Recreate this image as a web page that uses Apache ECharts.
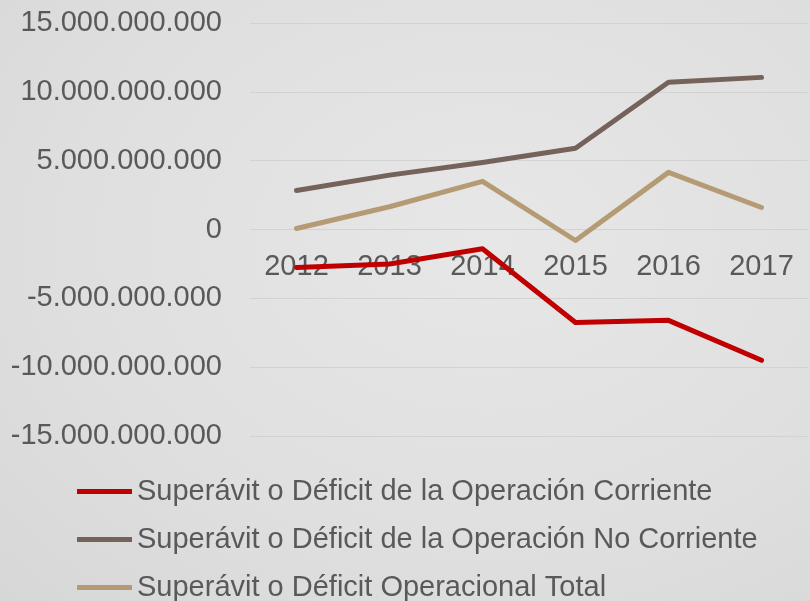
<!DOCTYPE html>
<html>
<head>
<meta charset="utf-8">
<script src="https://cdn.jsdelivr.net/npm/echarts@6/dist/echarts.min.js"></script>
<style>
  html, body { margin: 0; padding: 0; }
  #chart {
    width: 810px; height: 601px;
    background: radial-gradient(ellipse at 60% 40%, #e8e7e8 0%, #e0dfe0 60%, #d8d7d8 100%);
  }
</style>
</head>
<body>
<div id="chart"></div>
<script>
  const years = ['2012', '2013', '2014', '2015', '2016', '2017'];
  const corriente = [-2760000000, -2500000000, -1400000000, -6760000000, -6600000000, -9500000000];
  const noCorriente = [2830000000, 3950000000, 4870000000, 5900000000, 10700000000, 11050000000];
  const total = [70000000, 1650000000, 3500000000, -800000000, 4150000000, 1600000000];
  const names = [
    'Superávit o Déficit de la Operación Corriente',
    'Superávit o Déficit de la Operación No Corriente',
    'Superávit o Déficit Operacional Total'
  ];
  const colors = ['#c00000', '#75625a', '#b59b74'];

  const chart = echarts.init(document.getElementById('chart'));

  function fmt(v) {
    const s = Math.abs(v).toString().replace(/\B(?=(\d{3})+(?!\d))/g, '.');
    return (v < 0 ? '-' : '') + s;
  }

  function line(name, data, color) {
    return {
      name: name,
      type: 'line',
      data: data,
      symbol: 'none',
      z: 5,
      lineStyle: { color: color, width: 5, cap: 'round', join: 'round' },
      itemStyle: { color: color }
    };
  }

  // grid height 413 for 30 bn -> zero line is 206.5 px above the bottom edge
  chart.setOption({
    textStyle: { fontFamily: 'Liberation Sans' },
    color: colors,
    grid: { left: 250, right: 2, top: 23, bottom: 165 },
    legend: {
      orient: 'vertical',
      left: 77,
      top: 477,
      height: 200,
      padding: 0,
      itemWidth: 55,
      itemHeight: 5,
      itemGap: 19,
      icon: 'rect',
      textStyle: { fontSize: 29, color: '#595959' },
      data: names
    },
    xAxis: {
      type: 'category',
      data: years,
      offset: -206.5,
      z: 1,
      axisLine: { show: false, onZero: false },
      axisTick: { show: false },
      axisLabel: { fontSize: 29, color: '#595959', margin: 23 }
    },
    yAxis: {
      type: 'value',
      min: -15000000000,
      max: 15000000000,
      interval: 5000000000,
      axisLine: { show: false },
      axisTick: { show: false },
      splitLine: { lineStyle: { color: '#d3d2d3', width: 1 } },
      axisLabel: { fontSize: 29, color: '#595959', margin: 28, formatter: fmt }
    },
    series: [
      line(names[0], corriente, colors[0]),
      line(names[1], noCorriente, colors[1]),
      line(names[2], total, colors[2])
    ]
  });
</script>
</body>
</html>
